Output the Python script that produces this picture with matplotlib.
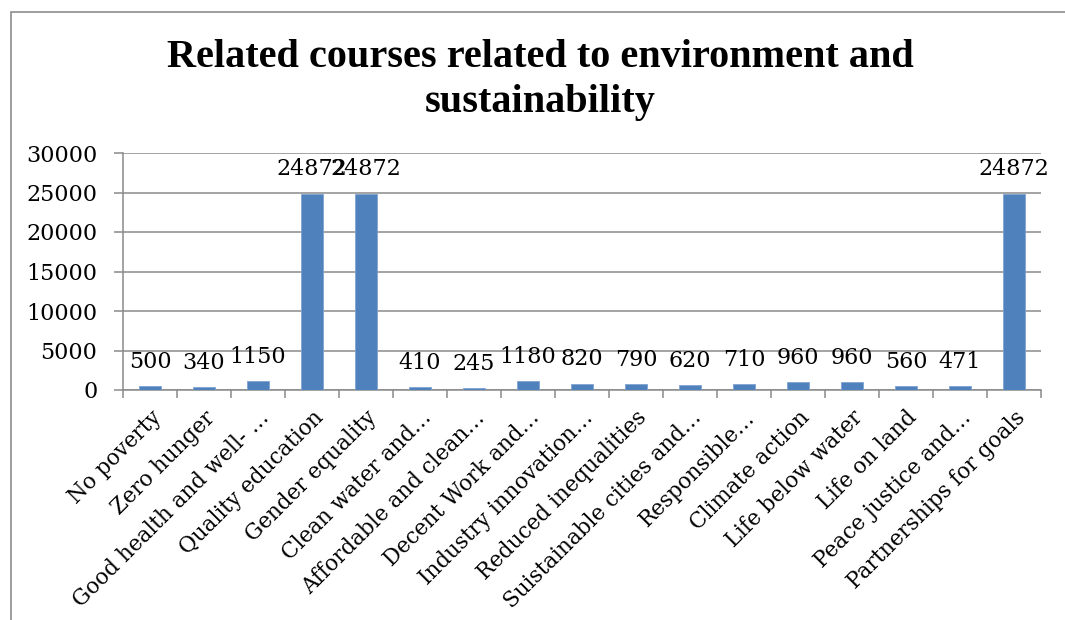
import matplotlib
matplotlib.use("Agg")
import matplotlib.pyplot as plt
from matplotlib.patches import Rectangle

categories = ["No poverty", "Zero hunger", "Good health and well- \u2026", "Quality education",
              "Gender equality", "Clean water and\u2026", "Affordable and clean\u2026",
              "Decent Work and\u2026", "Industry innovation\u2026", "Reduced inequalities",
              "Suistainable cities and\u2026", "Responsible\u2026", "Climate action",
              "Life below water", "Life on land", "Peace justice and\u2026",
              "Partnerships for goals"]
values = [500, 340, 1150, 24872, 24872, 410, 245, 1180, 820, 790, 620, 710, 960, 960, 560, 471, 24872]
yticks = [0, 5000, 10000, 15000, 20000, 25000, 30000]

plt.rcParams['font.family'] = ['DejaVu Serif']
FS = 16
GRID = '#8A8A8A'

fig = plt.figure(figsize=(10.65, 6.2), dpi=100)
ax = fig.add_axes([123/1065, 1-390/620, (1041-123)/1065, (390-153)/620])

x = list(range(len(categories)))
ax.bar(x, values, width=0.4, color='#4F81BD', edgecolor='#7FA3CF', linewidth=0.6, zorder=3)
for xi, v in zip(x, values):
    ax.annotate(str(v), (xi, v), xytext=(0, 13), textcoords='offset points',
                ha='center', va='baseline', fontsize=FS, zorder=4)

ax.set_xlim(-0.5, len(categories)-0.5)
ax.set_ylim(0, 30000)
ax.set_yticks(yticks)
ax.set_yticklabels([str(t) for t in yticks], fontsize=FS)
ax.yaxis.grid(True, color=GRID, linewidth=1.1, zorder=0)
ax.set_axisbelow(True)

ax.set_xticks([i - 0.5 for i in range(len(categories)+1)], minor=False)
ax.set_xticklabels([])
ax.set_xticks(x, minor=True)
ax.set_xticklabels(categories, minor=True, rotation=45, ha='right', va='top',
                   rotation_mode='anchor', fontsize=15.5)
ax.tick_params(axis='x', which='minor', length=0, pad=12)
ax.tick_params(axis='x', which='major', length=6, color=GRID, width=1.1, direction='out')
ax.tick_params(axis='y', length=6.5, color=GRID, width=1.1, pad=12)

for s in ['top', 'right']:
    ax.spines[s].set_visible(False)
for s in ['left', 'bottom']:
    ax.spines[s].set_color(GRID)
    ax.spines[s].set_linewidth(1.1)

fig.text(540/1065, 1-67/620, "Related courses related to environment and", ha='center', va='baseline',
         fontsize=29, fontweight='bold', family='Liberation Serif')
fig.text(540/1065, 1-112/620, "sustainability", ha='center', va='baseline',
         fontsize=29, fontweight='bold', family='Liberation Serif')

fig.patches.append(Rectangle((11/1065, -0.1), 1.2, 1-12/620+0.1, transform=fig.transFigure,
                             fill=False, edgecolor='#8C8C8C', linewidth=1.2))

fig.savefig('out.png', dpi=100)
